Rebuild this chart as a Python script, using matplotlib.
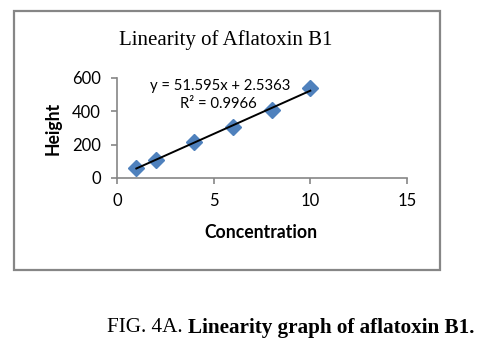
import matplotlib
matplotlib.use("Agg")
import matplotlib.pyplot as plt
from matplotlib.patches import Rectangle
import numpy as np

concentration = [1, 2, 4, 6, 8, 10]
height = [62, 108, 218, 305, 408, 538]
x_ticks = [0, 5, 10, 15]
y_ticks = [0, 200, 400, 600]
title = "Linearity of Aflatoxin B1"
eq_text = "y = 51.595x + 2.5363"
r2_text = "R² = 0.9966"
caption_plain = "FIG. 4A. "
caption_bold = "Linearity graph of aflatoxin B1."

W, H = 479, 356
fig = plt.figure(figsize=(W / 100, H / 100), dpi=100)

def fx(px):
    return px / W

def fy(py):
    return 1 - py / H

# outer chart border
fig.patches.append(Rectangle((fx(14), fy(270)), fx(440) - fx(14), fy(11) - fy(270),
                             transform=fig.transFigure, fill=False,
                             edgecolor="#868686", lw=1.6))

ax = fig.add_axes([fx(117), fy(178), fx(407) - fx(117), fy(78) - fy(178)])
ax.set_xlim(0, 15)
ax.set_ylim(0, 600)
ax.set_xticks(x_ticks)
ax.set_yticks(y_ticks)
for s in ["top", "right"]:
    ax.spines[s].set_visible(False)
for s in ["left", "bottom"]:
    ax.spines[s].set_color("#868686")
    ax.spines[s].set_linewidth(1.2)
ax.tick_params(axis="both", direction="out", length=4.5, width=1.2, color="#868686",
               labelsize=12)
ax.tick_params(axis="x", pad=6.5)
ax.tick_params(axis="y", pad=7)
for lab in ax.get_xticklabels() + ax.get_yticklabels():
    lab.set_fontfamily("Lato")
ax.patch.set_alpha(0)

ax.plot(concentration, height, linestyle="none", marker="D", markersize=8,
        color="#4F81BD", markeredgecolor="#4F81BD", zorder=3, clip_on=False)

coef = np.polyfit(concentration, height, 1)
xs = np.array([concentration[0], concentration[-1]])
ax.plot(xs, np.polyval(coef, xs), color="black", lw=1.4, zorder=4)

fig.text(fx(226), fy(40), title, ha="center", va="center",
         fontfamily="Liberation Serif", fontsize=15)
fig.text(fx(220), fy(86), eq_text, ha="center", va="center",
         fontfamily="Lato", fontsize=10.7)
fig.text(fx(218), fy(104), r2_text, ha="center", va="center",
         fontfamily="Lato", fontsize=10.7)

fig.text(fx(261), fy(233), "Concentration", ha="center", va="center",
         fontfamily="Lato", fontweight="bold", fontsize=12.7)
fig.text(fx(53), fy(128), "Height", ha="center", va="center", rotation=90,
         fontfamily="Lato", fontweight="bold", fontsize=12.7)

t1 = fig.text(fx(107), fy(328), caption_plain, ha="left", va="center",
              fontfamily="Liberation Serif", fontsize=15.2)
ax.annotate(caption_bold, xy=(1, 0), xycoords=t1, ha="left", va="bottom",
            fontfamily="Liberation Serif", fontweight="bold", fontsize=15.2,
            annotation_clip=False)

fig.savefig("out.png", dpi=100)
